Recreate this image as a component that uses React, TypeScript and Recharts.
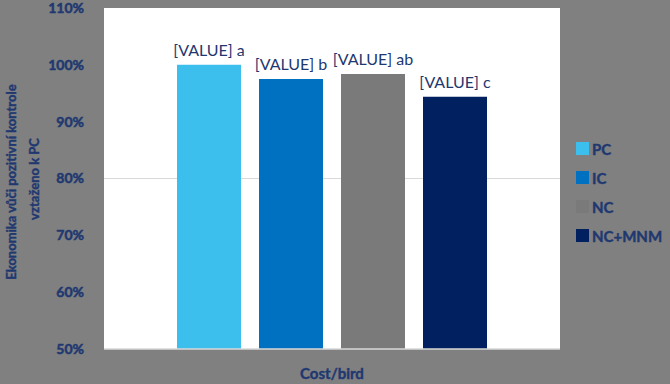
import { BarChart, Bar, XAxis, YAxis, CartesianGrid, LabelList } from "recharts";

const categories = ["Cost/bird"];
const seriesNames = ["PC", "IC", "NC", "NC+MNM"];
const seriesValues = [100, 97.5, 98.4, 94.4];
const letters = ["a", "b", "ab", "c"];
const colors = ["#3dbfee", "#0070c0", "#7a7a7a", "#002060"];
const yTicks = [50, 60, 70, 80, 90, 100, 110];
const gridValues = [80];
const yTitle = ["Ekonomika vůči pozitivní kontrole", "vztaženo k PC"];

const navy = "#1f3870";
const font = "Lato, 'Liberation Sans', sans-serif";

const data = categories.map((name) => {
  const row: any = { name };
  seriesNames.forEach((s, i) => (row[s] = seriesValues[i]));
  return row;
});

function YTitle() {
  return (
    <g>
      {yTitle.map((t, i) => (
        <text
          key={t}
          transform={`translate(${11 + i * 23},${182 - i * 3}) rotate(-90)`}
          textAnchor="middle"
          dominantBaseline="central"
          fill={navy}
          fontFamily={font}
          fontWeight="bold"
          fontSize={13}
          stroke={navy}
          strokeWidth={0.4}
        >
          {t}
        </text>
      ))}
    </g>
  );
}

const makeLabel = (letter: string) => (props: any) => {
  const { x, y, width } = props;
  return (
    <text
      x={Number(x) + Number(width) / 2}
      y={Number(y) - 9}
      textAnchor="middle"
      fill={navy}
      fontFamily={font}
      fontSize={16}
    >
      {`[VALUE] ${letter}`}
    </text>
  );
};

export default function App() {
  return (
    <div style={{ position: "relative", width: 670, height: 384, background: "#808080" }}>
      <style>{`body{margin:0}`}</style>
      <BarChart
        width={670}
        height={384}
        data={data}
        margin={{ top: 8, right: 110, bottom: 0, left: 44 }}
        barGap={18}
        barSize={64}
      >
        <CartesianGrid
          vertical={false}
          horizontalValues={gridValues}
          stroke="#d9d9d9"
          fill="#ffffff"
        />
        <XAxis
          dataKey="name"
          height={35}
          axisLine={{ stroke: "#d9d9d9", strokeWidth: 1.5 }}
          tickLine={false}
          tickMargin={13}
          tick={{ fill: navy, fontFamily: font, fontWeight: "bold", fontSize: 15, stroke: navy, strokeWidth: 0.4 }}
        />
        <YAxis
          width={60}
          domain={[50, 110]}
          ticks={yTicks}
          allowDataOverflow
          axisLine={false}
          tickLine={false}
          tickMargin={14}
          tickFormatter={(v: number) => `${v}%`}
          tick={{ fill: navy, fontFamily: font, fontWeight: "bold", fontSize: 14, stroke: navy, strokeWidth: 0.5 }}
        />
        {seriesNames.map((s, i) => (
          <Bar key={s} dataKey={s} fill={colors[i]} isAnimationActive={false}>
            <LabelList dataKey={s} content={makeLabel(letters[i])} />
          </Bar>
        ))}
      </BarChart>
      <svg width={670} height={384} style={{ position: "absolute", left: 0, top: 0, pointerEvents: "none" }}>
        <YTitle />
        {seriesNames.map((s, i) => (
          <g key={s} transform={`translate(576,${142 + i * 29})`}>
            <rect width={13} height={13} fill={colors[i]} />
            <text
              x={16}
              y={7}
              dominantBaseline="central"
              fill={navy}
              fontFamily={font}
              fontWeight="bold"
              fontSize={15}
              stroke={navy}
              strokeWidth={0.4}
            >
              {s}
            </text>
          </g>
        ))}
      </svg>
    </div>
  );
}
